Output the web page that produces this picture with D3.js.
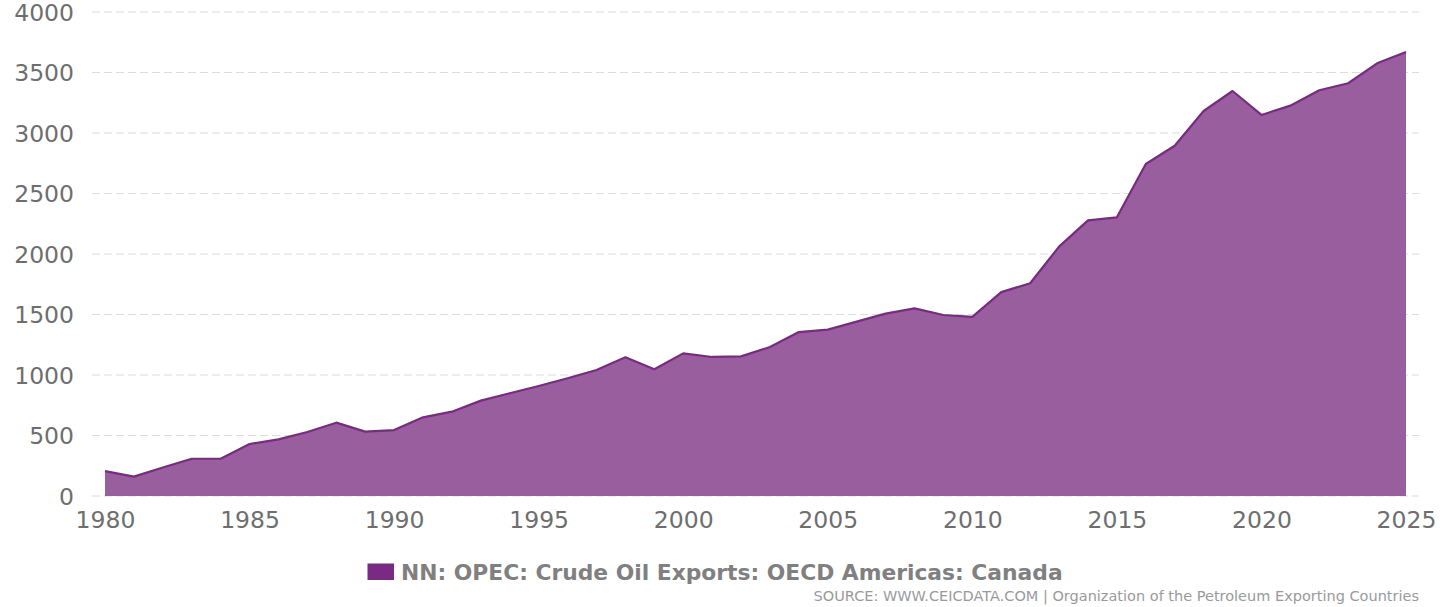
<!DOCTYPE html>
<html>
<head>
<meta charset="utf-8">
<script src="https://cdn.jsdelivr.net/npm/d3@7"></script>
<style>
html,body{margin:0;padding:0;background:#fff;}
svg{display:block;font-family:"DejaVu Sans",sans-serif;}
</style>
</head>
<body>
<svg id="chart" width="1456" height="607"></svg>
<script>
const years = [1980,1981,1982,1983,1984,1985,1986,1987,1988,1989,1990,1991,1992,1993,1994,1995,1996,1997,1998,1999,2000,2001,2002,2003,2004,2005,2006,2007,2008,2009,2010,2011,2012,2013,2014,2015,2016,2017,2018,2019,2020,2021,2022,2023,2024,2025];
const values = [205,160,235,308,308,430,468,529,606,532,545,650,697,788,849,909,973,1041,1146,1047,1179,1149,1154,1231,1355,1375,1441,1507,1551,1496,1481,1685,1758,2061,2278,2303,2744,2895,3182,3347,3149,3226,3353,3411,3576,3669];
const yTicks = [0,500,1000,1500,2000,2500,3000,3500,4000];
const xTicks = [1980,1985,1990,1995,2000,2005,2010,2015,2020,2025];
const seriesName = "NN: OPEC: Crude Oil Exports: OECD Americas: Canada";
const sourceText = "SOURCE: WWW.CEICDATA.COM | Organization of the Petroleum Exporting Countries";

const data = years.map((y,i)=>({year:y,value:values[i]}));
const svg = d3.select("#chart");

const x = d3.scaleLinear().domain([1980,2025]).range([105,1406]);
const y = d3.scaleLinear().domain([0,4000]).range([496,12]);

// grid
svg.append("g").selectAll("line").data(yTicks).join("line")
  .attr("x1",92).attr("x2",1419)
  .attr("y1",d=>y(d)).attr("y2",d=>y(d))
  .attr("stroke","#dcdcdc").attr("stroke-width",1.2)
  .attr("stroke-dasharray","8,4");

// area
const area = d3.area().x(d=>x(d.year)).y0(y(0)).y1(d=>y(d.value));
svg.append("path").datum(data).attr("d",area).attr("fill","#985e9e");
const line = d3.line().x(d=>x(d.year)).y(d=>y(d.value));
svg.append("path").datum(data).attr("d",line).attr("fill","none")
  .attr("stroke","#7b2a83").attr("stroke-width",2.2).attr("stroke-linejoin","round");

// y axis labels
const yAxis = d3.axisLeft(y).tickValues(yTicks).tickSize(0).tickPadding(0).tickFormat(d3.format("d"));
const gy = svg.append("g").attr("transform","translate(74,0)").call(yAxis);
gy.select(".domain").remove();
gy.selectAll("text").attr("font-size",23.5).attr("fill","#6e6e6e").attr("font-family","DejaVu Sans").attr("dy","0.35em");

// x axis labels
const xAxis = d3.axisBottom(x).tickValues(xTicks).tickSize(0).tickPadding(0).tickFormat(d3.format("d"));
const gx = svg.append("g").attr("transform","translate(0,511)").call(xAxis);
gx.select(".domain").remove();
gx.selectAll("text").attr("font-size",23.5).attr("fill","#6e6e6e").attr("font-family","DejaVu Sans").attr("dy","0.71em");

// legend
svg.append("rect").attr("x",367.5).attr("y",563.5).attr("width",26.5).attr("height",16.5).attr("fill","#7b2a84");
svg.append("text").attr("x",401).attr("y",580).attr("font-size",21.8).attr("font-weight","bold")
  .attr("fill","#808080").text(seriesName);

// source
svg.append("text").attr("x",1419).attr("y",601).attr("text-anchor","end").attr("font-size",14.5)
  .attr("fill","#9a9a9a").text(sourceText);
</script>
</body>
</html>
